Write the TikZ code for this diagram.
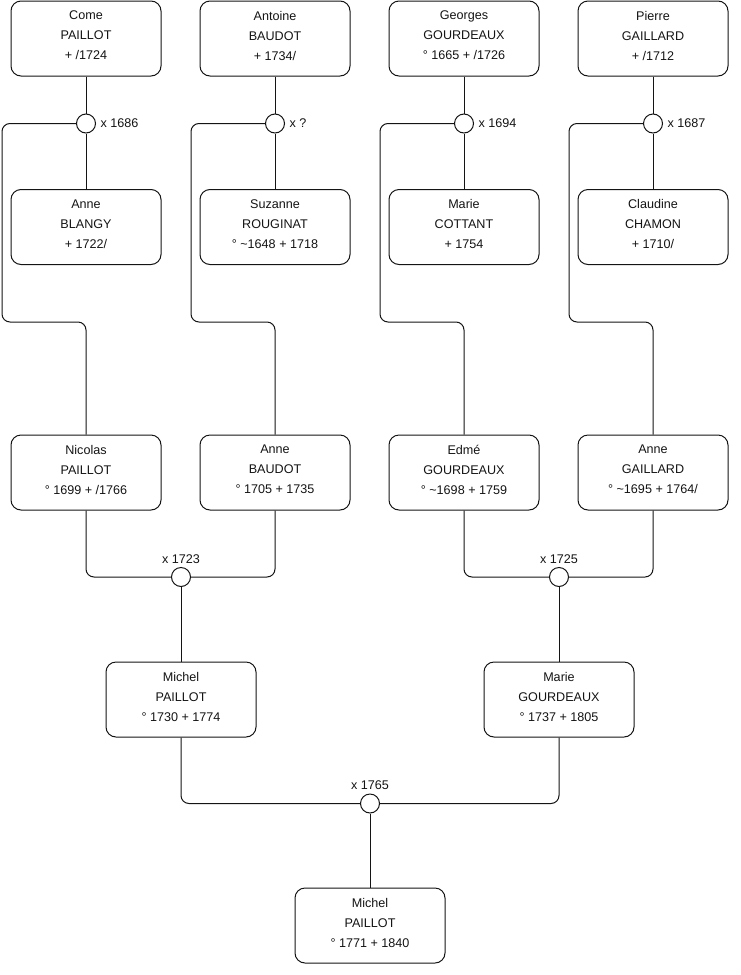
\documentclass[tikz,border=0pt]{standalone}
\usepackage{fontspec}
\setmainfont{Liberation Sans}
\usepackage{xcolor}
\usepackage{tikz}
\usetikzlibrary{positioning}
\definecolor{ink}{RGB}{20, 20, 20}

\begin{document}
\begin{tikzpicture}[
  x=1pt, y=-1pt, line width=1pt, draw=ink,
  person/.style={draw=ink,rounded corners=10pt,minimum width=150pt,minimum height=75pt,
    align=center,font=\fontsize{12.6}{20}\selectfont,text=ink,text depth=6pt},
  wed/.style={circle,draw=ink,fill=white,minimum size=19pt,inner sep=0pt},
  datelbl/.style={inner sep=0pt,font=\fontsize{12.6}{14}\selectfont,text=ink}
]
\useasboundingbox (0,0) rectangle (740,975);
% grandparents
\node[person] (come) at (86,38.5) {Come\\PAILLOT\\+ /1724};
\node[person] (antoine) at (275,38.5) {Antoine\\BAUDOT\\+ 1734/};
\node[person] (georges) at (464,38.5) {Georges\\GOURDEAUX\\° 1665 + /1726};
\node[person] (pierre) at (653,38.5) {Pierre\\GAILLARD\\+ /1712};
\node[person] (anneb) at (86,227) {Anne\\BLANGY\\+ 1722/};
\node[person] (suzanne) at (275,227) {Suzanne\\ROUGINAT\\° \textasciitilde1648 + 1718};
\node[person] (mariec) at (464,227) {Marie\\COTTANT\\+ 1754};
\node[person] (claudine) at (653,227) {Claudine\\CHAMON\\+ 1710/};
\foreach \n/\xx in {1686/86,1694/464,1687/653}{
  \node[wed] (x\n) at (\xx,123.5) {};
  \node[datelbl,right=4pt of x\n] (l\n) {x \n};
}
\node[wed] (xq) at (275,123.5) {};
\node[datelbl,right=4pt of xq] (lq) {x ?};
\draw (come) -- (x1686) -- (anneb);
\draw (antoine) -- (xq) -- (suzanne);
\draw (georges) -- (x1694) -- (mariec);
\draw (pierre) -- (x1687) -- (claudine);
% parents
\node[person] (nicolas) at (86,472.5) {Nicolas\\PAILLOT\\° 1699 + /1766};
\node[person] (anneba) at (275,472.5) {Anne\\BAUDOT\\° 1705 + 1735};
\node[person] (edme) at (464,472.5) {Edmé\\GOURDEAUX\\° \textasciitilde1698 + 1759};
\node[person] (annega) at (653,472.5) {Anne\\GAILLARD\\° \textasciitilde1695 + 1764/};
\coordinate (r1) at (2,322);
\coordinate (r2) at (191,322);
\coordinate (r3) at (380,322);
\coordinate (r4) at (569,322);
\draw[rounded corners=8pt] (x1686.west) -| (r1) -| (nicolas.north);
\draw[rounded corners=8pt] (xq.west) -| (r2) -| (anneba.north);
\draw[rounded corners=8pt] (x1694.west) -| (r3) -| (edme.north);
\draw[rounded corners=8pt] (x1687.west) -| (r4) -| (annega.north);
\node[wed] (x1723) at (181,577) {};
\node[datelbl,above=3pt of x1723] (l1723) {x 1723};
\node[wed] (x1725) at (559,577) {};
\node[datelbl,above=3pt of x1725] (l1725) {x 1725};
\draw[rounded corners=8pt] (nicolas.south) |- (x1723.west);
\draw[rounded corners=8pt] (anneba.south) |- (x1723.east);
\draw[rounded corners=8pt] (edme.south) |- (x1725.west);
\draw[rounded corners=8pt] (annega.south) |- (x1725.east);
% couple and child
\node[person] (michel) at (181,699.5) {Michel\\PAILLOT\\° 1730 + 1774};
\node[person] (marieg) at (559,699.5) {Marie\\GOURDEAUX\\° 1737 + 1805};
\draw (x1723) -- (michel);
\draw (x1725) -- (marieg);
\node[wed] (x1765) at (370,803.5) {};
\node[datelbl,above=3pt of x1765] (l1765) {x 1765};
\draw[rounded corners=8pt] (michel.south) |- (x1765.west);
\draw[rounded corners=8pt] (marieg.south) |- (x1765.east);
\node[person] (michel2) at (370,925.5) {Michel\\PAILLOT\\° 1771 + 1840};
\draw (x1765) -- (michel2);
\end{tikzpicture}
\end{document}
